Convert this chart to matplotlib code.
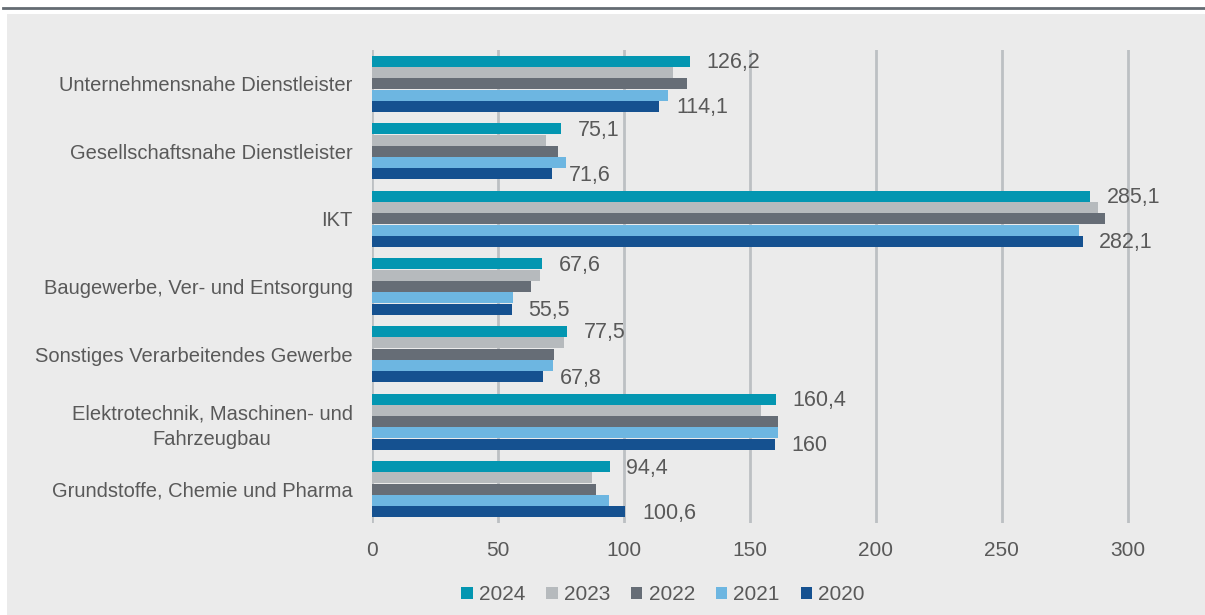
import matplotlib.pyplot as plt
import numpy as np
from matplotlib.patches import Rectangle
from matplotlib.lines import Line2D

categories = ['Unternehmensnahe Dienstleister',
              'Gesellschaftsnahe Dienstleister',
              'IKT',
              'Baugewerbe, Ver- und Entsorgung',
              'Sonstiges Verarbeitendes Gewerbe',
              'Elektrotechnik, Maschinen- und\nFahrzeugbau',
              'Grundstoffe, Chemie und Pharma']
years = ['2024', '2023', '2022', '2021', '2020']
v2024 = [126.2, 75.1, 285.1, 67.6, 77.5, 160.4, 94.4]
v2023 = [119.4, 69.0, 288.1, 66.7, 76.3, 154.6, 87.4]
v2022 = [125.0, 73.8, 291.2, 63.1, 72.2, 161.1, 89.0]
v2021 = [117.5, 77.0, 280.8, 56.0, 71.7, 161.2, 94.2]
v2020 = [114.1, 71.6, 282.1, 55.5, 67.8, 160.0, 100.6]
ticks = [0, 50, 100, 150, 200, 250, 300]

colors = ['#0396b1', '#b6babd', '#666d76', '#6db6e1', '#155190']
series = [v2024, v2023, v2022, v2021, v2020]

plt.rcParams['font.family'] = ['Liberation Sans', 'DejaVu Sans']
text_col = '#595959'

fig = plt.figure(figsize=(12.05, 6.15), dpi=100)
fig.patch.set_facecolor('white')
# gray panel and dark rule on top
fig.patches.append(Rectangle((7 / 1205, 0), 1, 1 - 14 / 615, transform=fig.transFigure,
                             facecolor='#ebebeb', edgecolor='none', zorder=-5))
fig.lines.append(Line2D([3 / 1205, 1], [1 - 7.5 / 615] * 2, transform=fig.transFigure,
                        color='#646b72', lw=2, zorder=-5))

ax = fig.add_axes([372 / 1205, 1 - 523 / 615, (1173 - 372) / 1205, (523 - 50) / 615])
ax.set_facecolor('none')

n = len(categories)
y = np.arange(n)
h = 0.167
for i, (vals, col, yr) in enumerate(zip(series, colors, years)):
    pos = y - 2 * h + i * h
    ax.barh(pos, vals, height=h * 0.97, color=col, label=yr, zorder=3)
    if yr in ('2024', '2020'):
        for p, v in zip(pos, vals):
            s = ('%.1f' % v).replace('.', ',') if v != int(v) else '%d' % v
            ax.annotate(s, (v, p), xytext=(12, -1), textcoords='offset points',
                        va='center', ha='left', fontsize=15.5, color=text_col)

ax.set_ylim(n - 0.5, -0.5)
ax.set_xlim(0, 318)
ax.set_xticks(ticks)
ax.set_xticklabels([str(t) for t in ticks])
ax.set_yticks(y)
ax.set_yticklabels(categories, multialignment='center', linespacing=1.45)
ax.tick_params(axis='both', length=0, colors=text_col)
ax.tick_params(axis='x', pad=13, labelsize=15)
ax.tick_params(axis='y', pad=14, labelsize=14.5)
ax.grid(axis='x', color='#bcc0c3', lw=2, zorder=1)
for sp in ax.spines.values():
    sp.set_visible(False)

fig.legend(loc='center', bbox_to_anchor=(663 / 1205, 1 - 595 / 615), ncol=5,
           frameon=False, fontsize=15, handlelength=0.55, handleheight=0.55,
           handletextpad=0.3, columnspacing=1.0, labelcolor=text_col)

plt.savefig('out.png', dpi=100)
